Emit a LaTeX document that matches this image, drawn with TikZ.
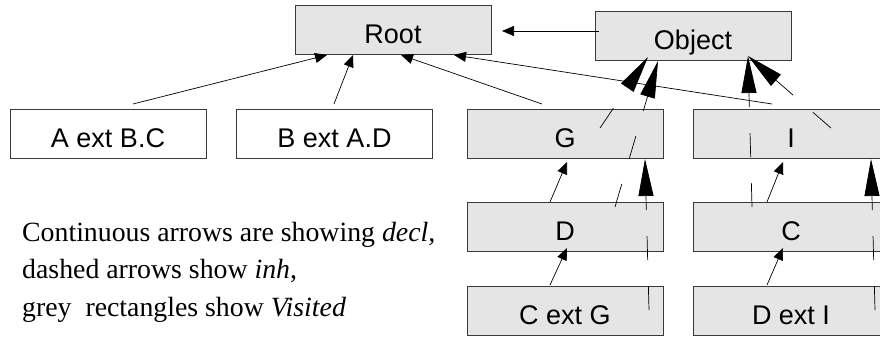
\documentclass[tikz,border=0pt]{standalone}
\usepackage{fontspec}
\setmainfont{Liberation Serif}
\setsansfont{Liberation Sans}
\usetikzlibrary{arrows.meta}
\definecolor{boxfill}{HTML}{E5E5E5}
\definecolor{boxline}{HTML}{3A3A3A}
\begin{document}
\begin{tikzpicture}[x=1pt,y=-1pt,
  cls/.style={draw=boxline, line width=1pt, minimum width=196pt, minimum height=49pt,
    inner sep=0pt, font=\sffamily\fontsize{27}{30}\selectfont, text height=27pt, text depth=0pt},
  visited/.style={cls, fill=boxfill},
  plainbox/.style={cls, fill=white},
  decl/.style={line width=0.7pt, -{Triangle[length=12pt,width=10pt]}},
  inh/.style={line width=0.7pt, dash pattern=on 24pt off 26pt, -{Triangle[length=37pt,width=15pt]}}]
\clip (0,0) rectangle (880,338);
\fill[white] (0,0) rectangle (880,338);
% boxes
\node[visited] (root) at (393,29.5) {Root};
\node[visited] (object) at (693,35.5) {Object};
\node[plainbox] (a) at (108,133.5) {A ext B.C};
\node[plainbox] (b) at (334.5,133.5) {B ext A.D};
\node[visited] (g) at (565,133.5) {G};
\node[visited] (i) at (791,133.5) {I};
\node[visited] (d) at (565,227) {D};
\node[visited] (c) at (791,227) {C};
\node[visited] (cg) at (565,310.5) {C ext G};
\node[visited] (di) at (791,310.5) {D ext I};
% legend (base anchor = baseline of the last line)
\node[anchor=base west, align=left, inner sep=0pt, font=\fontsize{27.8}{37.5}\selectfont] (legend) at (22,316)
  {Continuous arrows are showing \textit{decl,}\\ dashed arrows show \textit{inh},\\ grey\ \ rectangles show \textit{Visited}};
% connector end points
\coordinate (aS) at (133,104);  \coordinate (rA) at (327,55);
\coordinate (bS) at (334,104);  \coordinate (rB) at (353,55);
\coordinate (gS) at (542,104);  \coordinate (rG) at (401,55);
\coordinate (iS) at (772,104);  \coordinate (rI) at (454,55);
\coordinate (oS) at (599,31);   \coordinate (rO) at (502,31);
\coordinate (dS) at (550,202);  \coordinate (gD) at (567,162);
\coordinate (cgS) at (550,285); \coordinate (dC) at (567,248);
\coordinate (cS) at (767,202);  \coordinate (iC) at (783,162);
\coordinate (diS) at (767,285); \coordinate (cD) at (783,248);
\coordinate (gO) at (600,128);  \coordinate (oG) at (648,57);
\coordinate (dO) at (615,207);  \coordinate (oD) at (658,61);
\coordinate (cgG) at (649,310); \coordinate (gT) at (645,159);
\coordinate (cO) at (752,207);  \coordinate (oC) at (748,56);
\coordinate (iO) at (831,128);  \coordinate (oI) at (748,56);
\coordinate (diI) at (875,310); \coordinate (iT) at (871,159);
% decl arrows
\draw[decl] (aS) -- (rA);
\draw[decl] (bS) -- (rB);
\draw[decl] (gS) -- (rG);
\draw[decl] (iS) -- (rI);
\draw[decl] (oS) -- (rO);
\draw[decl] (dS) -- (gD);
\draw[decl] (cgS) -- (dC);
\draw[decl] (cS) -- (iC);
\draw[decl] (diS) -- (cD);
% inh arrows
\draw[inh] (gO) -- (oG);
\draw[inh] (dO) -- (oD);
\draw[inh] (cgG) -- (gT);
\draw[inh] (cO) -- (oC);
\draw[inh] (iO) -- (oI);
\draw[inh] (diI) -- (iT);
\end{tikzpicture}
\end{document}
